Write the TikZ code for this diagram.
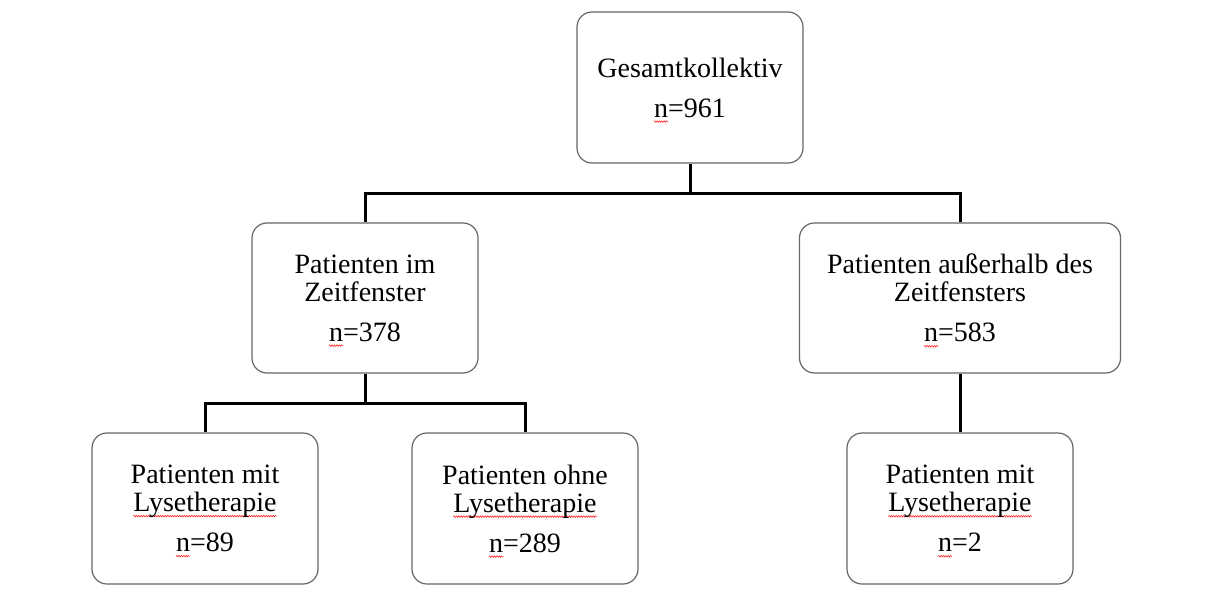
\documentclass[tikz,border=0pt]{standalone}
\usepackage{fontspec}
\setmainfont{Liberation Serif}
\usetikzlibrary{positioning, decorations.pathmorphing}
\newsavebox\errbox
\newcommand\spellerr[1]{\sbox\errbox{#1}\tikz[overlay, baseline=0pt]\draw[red!85, line width=0.6pt, sharp corners, x=1pt, y=1pt,
  decorate, decoration={zigzag, amplitude=0.8pt, segment length=2.4pt}] (0,-4.5) -- (\the\wd\errbox,-4.5);\usebox\errbox}
\tikzset{
  box/.style={draw=black!60, line width=1.2pt, rounded corners=15pt, align=center,
    minimum width=226pt, minimum height=150pt, inner sep=0pt,
    font=\fontsize{28}{28}\selectfont},
  conn/.style={line width=3pt}
}

\begin{document}
\begin{tikzpicture}[x=1pt, y=-1pt]
  \useasboundingbox (0,0) rectangle (1221,594);
  \node[box, minimum height=151pt] (ges) at (690,87.5) {Gesamtkollektiv\\[12pt]\spellerr{n}=961};
  \node[box] (zeit) at (365,298) {Patienten im\\Zeitfenster\\[12pt]\spellerr{n}=378};
  \node[box, minimum width=321pt] (auss) at (960,298) {Patienten außerhalb des\\Zeitfensters\\[12pt]\spellerr{n}=583};
  \node[box, minimum height=151pt] (mit) at (205,508.5) {Patienten mit\\\spellerr{Lysetherapie}\\[12pt]\spellerr{n}=89};
  \node[box, minimum height=151pt] (ohne) at (525,508.5) {Patienten ohne\\\spellerr{Lysetherapie}\\[12pt]\spellerr{n}=289};
  \node[box, minimum height=151pt] (mit2) at (960,508.5) {Patienten mit\\\spellerr{Lysetherapie}\\[12pt]\spellerr{n}=2};
  \draw[conn] (ges.south) -- ++(0,30) -| (zeit.north);
  \draw[conn] (ges.south) ++(0,30) -| (auss.north);
  \draw[conn] (zeit.south) -- ++(0,30) -| (mit.north);
  \draw[conn] (zeit.south) ++(0,30) -| (ohne.north);
  \draw[conn] (auss.south) -- (mit2.north); % straight down
\end{tikzpicture}
\end{document}
